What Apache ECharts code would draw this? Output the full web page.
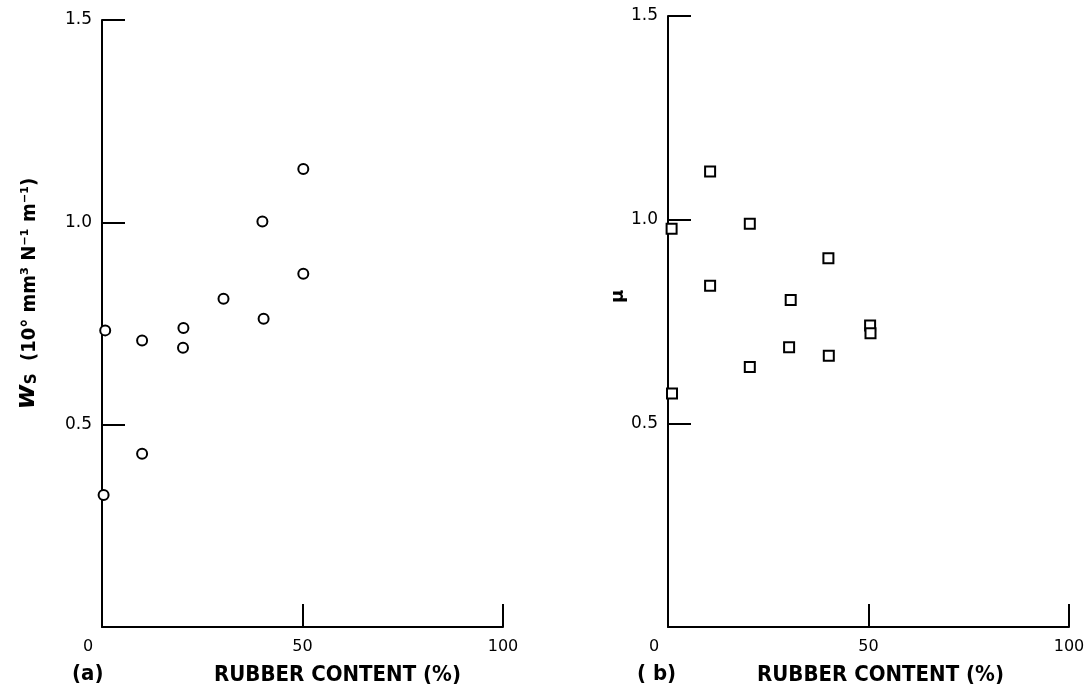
<!DOCTYPE html>
<html>
<head>
<meta charset="utf-8">
<script src="https://cdn.jsdelivr.net/npm/echarts@6/dist/echarts.min.js"></script>
<style>
html,body{margin:0;padding:0;background:#fff;}
#c{width:1089px;height:691px;}
</style>
</head>
<body>
<div id="c"></div>
<script>
// Panel (a): wear rate w_S vs rubber content
const aRubber = [0.8, 0.4, 10, 10, 20.3, 20.2, 30.3, 40, 40.3, 50.2, 50.2];
const aWear   = [0.733, 0.326, 0.708, 0.428, 0.739, 0.690, 0.811, 1.002, 0.762, 1.132, 0.873];
// Panel (b): friction coefficient mu vs rubber content
const bRubber = [10.5, 0.9, 20.4, 40, 10.5, 30.6, 50.4, 50.5, 30.2, 40.1, 20.4, 1];
const bMu     = [1.118, 0.978, 0.990, 0.905, 0.838, 0.803, 0.740, 0.721, 0.687, 0.666, 0.638, 0.573];
const xTicks = [0, 50, 100];
const yTicks = [0.5, 1.0, 1.5];
const xTitle = 'RUBBER CONTENT (%)';

const FONT = '"DejaVu Sans", sans-serif';
const COND = '"DejaVu Sans Condensed", "Liberation Sans Narrow", "DejaVu Sans", sans-serif';

function xAxisFor(idx) {
  return {
    type: 'value', gridIndex: idx, min: 0, max: 100, interval: 50,
    axisLine: {show: true, lineStyle: {color: '#000', width: 2}},
    axisTick: {show: true, inside: true, length: 23, lineStyle: {color: '#000', width: 2}},
    splitLine: {show: false},
    axisLabel: {
      color: '#000', fontFamily: FONT, fontSize: 16, margin: 12,
      formatter: v => v === 0 ? '{z|0}' : String(v),
      rich: {z: {fontFamily: FONT, fontSize: 16, color: '#000', padding: [0, 28, 0, 0]}}
    },
    name: xTitle, nameLocation: 'middle', nameGap: 37,
    nameTextStyle: {color: '#000', fontFamily: COND, fontSize: 22, fontWeight: 'bold', padding: [0, 0, 0, idx === 0 ? 70 : 24]}
  };
}
function yAxisFor(idx, nameCfg) {
  return Object.assign({
    type: 'value', gridIndex: idx, min: 0, max: 1.5, interval: 0.5,
    axisLine: {show: true, lineStyle: {color: '#000', width: 2}},
    axisTick: {show: true, inside: true, length: 23, lineStyle: {color: '#000', width: 2}},
    splitLine: {show: false},
    axisLabel: {
      color: '#000', fontFamily: FONT, fontSize: 17, margin: 10,
      formatter: v => v === 0 ? '' : v.toFixed(1)
    }
  }, nameCfg);
}

const option = {
  backgroundColor: '#fff',
  animation: false,
  grid: [
    {left: 102, right: 586, top: 20, bottom: 61},
    {left: 668, right: 20, top: 16, bottom: 62}
  ],
  xAxis: [xAxisFor(0), xAxisFor(1)],
  yAxis: [
    yAxisFor(0, {
      name: '{w|w}{s|S}{t|  (10° mm³ N⁻¹ m⁻¹)}',
      nameLocation: 'middle', nameRotate: 90, nameGap: 62,
      nameTextStyle: {
        padding: [0, 0, 0, 60],
        rich: {
          w: {fontFamily: FONT, fontSize: 27, fontStyle: 'italic', fontWeight: 'bold', color: '#000', lineHeight: 30, verticalAlign: 'bottom'},
          s: {fontFamily: FONT, fontSize: 15, fontWeight: 'bold', color: '#000', lineHeight: 22, verticalAlign: 'bottom'},
          t: {fontFamily: COND, fontSize: 20, fontWeight: 'bold', color: '#000', lineHeight: 30, verticalAlign: 'bottom'}
        }
      }
    }),
    yAxisFor(1, {
      name: 'μ', nameLocation: 'middle', nameRotate: 90, nameGap: 34,
      nameTextStyle: {color: '#000', fontFamily: FONT, fontSize: 18, fontWeight: 'bold', padding: [0, 0, 0, 50]}
    })
  ],
  graphic: [
    {type: 'text', left: 72, top: 663, style: {text: '(a)', font: 'bold 22px ' + COND, fill: '#000'}},
    {type: 'text', left: 637, top: 663, style: {text: '( b)', font: 'bold 22px ' + COND, fill: '#000'}}
  ],
  series: [
    {
      type: 'scatter', xAxisIndex: 0, yAxisIndex: 0,
      data: aRubber.map((x, i) => [x, aWear[i]]),
      symbol: 'circle', symbolSize: 10,
      itemStyle: {color: '#fff', borderColor: '#000', borderWidth: 2, opacity: 1}
    },
    {
      type: 'scatter', xAxisIndex: 1, yAxisIndex: 1,
      data: bRubber.map((x, i) => [x, bMu[i]]),
      symbol: 'rect', symbolSize: 10,
      itemStyle: {color: '#fff', borderColor: '#000', borderWidth: 2, opacity: 1}
    }
  ]
};
const chart = echarts.init(document.getElementById('c'), null, {renderer: 'canvas'});
chart.setOption(option);
</script>
</body>
</html>
